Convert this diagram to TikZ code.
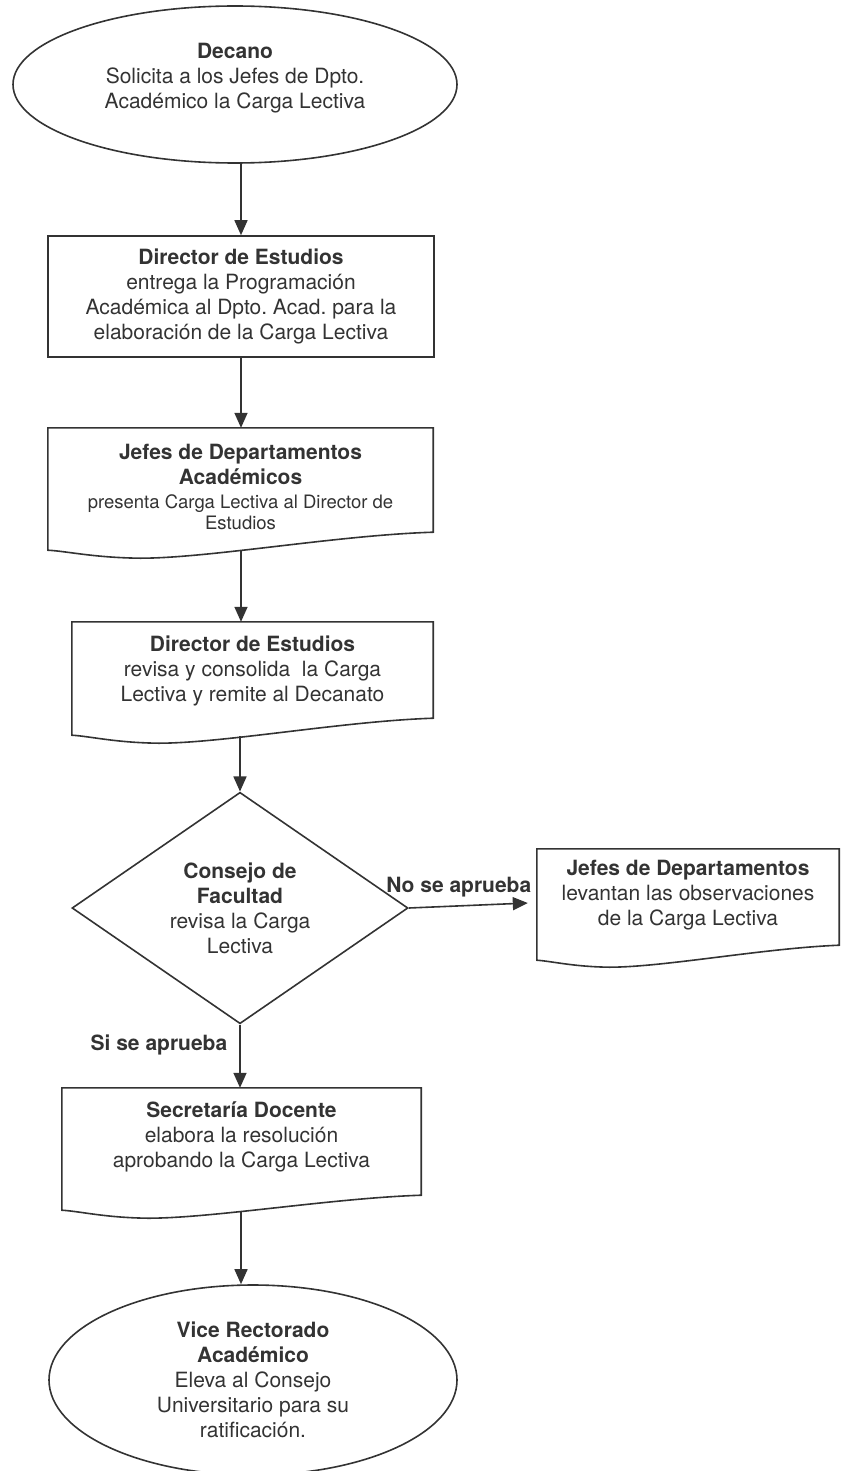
\documentclass[tikz,border=0pt]{standalone}
\usepackage{fontspec}
\setmainfont{TeX Gyre Heros}
\frenchspacing
\usetikzlibrary{shapes.geometric,arrows.meta,calc}

\definecolor{ink}{HTML}{333333}

\tikzset{
  txt/.style={inner sep=0pt, align=center, text=ink, font=\fontsize{21}{25}\selectfont},
  frame/.style={draw=ink, line width=1.6pt, line join=miter},
  terminal/.style={ellipse, frame, inner sep=0pt},
  procbox/.style={txt, rectangle, frame},
  docbox/.style={txt, rectangle},
  decision/.style={txt, diamond, frame},
  flow/.style={draw=ink, line width=1.6pt, -{Triangle[length=15pt,width=13pt]}},
  lbl/.style={txt, font=\fontsize{21}{25}\selectfont\bfseries}
}

% Document symbol: straight top and sides, wavy bottom edge.
% #1 node, #2 left end, #3 lowest point, #4 right end (y offsets from the node's south side)
\newcommand\docoutline[4]{%
  \draw[frame] ([yshift=#2]#1.south west) -- (#1.north west) -- (#1.north east)
    -- ([yshift=#4]#1.south east)
    .. controls ($(#1.south west)!0.75!(#1.south east)+(0,#4-3)$)
            and ($(#1.south west)!0.42!(#1.south east)+(0,#3)$)
    .. ($(#1.south west)!0.24!(#1.south east)+(0,#3)$)
    .. controls ($(#1.south west)!0.12!(#1.south east)+(0,#3+0.5)$)
            and ($(#1.south west)!0.05!(#1.south east)+(0,#2-1)$)
    .. ([yshift=#2]#1.south west) -- cycle;
  % point of the wavy edge under the middle of the symbol
  \coordinate (#1-wave) at ($(#1.south)+(0,{#3+0.28*(#4-(#3))})$);
}

\begin{document}
\begin{tikzpicture}[x=1pt,y=1pt]
\useasboundingbox (0,0) rectangle (841,-1471);
\clip (0,0) rectangle (841,-1471);

% start
\node[terminal, minimum width=444, minimum height=157] (e1) at (235,-84.5) {};
\node[txt] (e1t) at (235,-78.5) {\textbf{Decano}\\Solicita a los Jefes de Dpto.\\Académico la Carga Lectiva};

% process steps
\node[procbox, minimum width=386, minimum height=121] (b2) at (241,-296.5)
  {\textbf{Director de Estudios}\\entrega la Programación\\Académica al Dpto. Acad. para la\\elaboración de la Carga Lectiva};

\node[docbox, minimum width=385, minimum height=118] (b3) at (240.5,-487)
  {\textbf{Jefes de Departamentos}\\\textbf{Académicos}\\[-1pt]{\fontsize{18.5}{20.5}\selectfont presenta Carga Lectiva al Director de}\\[-4.5pt]{\fontsize{18.5}{20.5}\selectfont Estudios}};
\docoutline{b3}{-4}{-12}{14}

\node[docbox, minimum width=361, minimum height=98] (b4) at (252.5,-671)
  {\textbf{Director de Estudios}\\revisa y consolida\ \ la Carga\\Lectiva y remite al Decanato};
\docoutline{b4}{-15}{-23}{2}

\node[decision, minimum width=336, minimum height=192] (dia) at (240,-908)
  {\textbf{Consejo de}\\\textbf{Facultad}\\revisa la Carga\\Lectiva};

\node[docbox, minimum width=302, minimum height=92] (b5) at (688,-895)
  {\textbf{Jefes de Departamentos}\\levantan las observaciones\\de la Carga Lectiva};
\docoutline{b5}{-19}{-26}{-4}

\node[docbox, minimum width=359, minimum height=98] (b6) at (241.5,-1137)
  {\textbf{Secretaría Docente}\\elabora la resolución\\aprobando la Carga Lectiva};
\docoutline{b6}{-24}{-32}{-9}

% end
\node[terminal, txt, minimum width=408, minimum height=190] (e7) at (253,-1380)
  {\textbf{Vice Rectorado}\\\textbf{Académico}\\Eleva al Consejo\\Universitario para su\\ratificación.};

% connectors (main column aligned on x = 241)
\draw[flow] (b2.north |- e1.south) -- (b2.north);
\draw[flow] (b2.south) -- (b2.south |- b3.north);
\draw[flow] (b2.south |- b3-wave) -- (b2.south |- b4.north);
\draw[flow] (dia.north |- b4-wave) -- (dia.north);
\draw[flow] (dia.east) -- node[lbl, pos=0.42, above=8pt] (lno) {No se aprueba} ($(b5.west)+(-9,-8)$);
\draw[flow] (dia.south) -- node[lbl, pos=0.33, left=12pt] (lsi) {Si se aprueba} (dia.south |- b6.north);
\draw[flow] (b2.south |- b6-wave) -- (b2.south |- e7.north);
\end{tikzpicture}
\end{document}
